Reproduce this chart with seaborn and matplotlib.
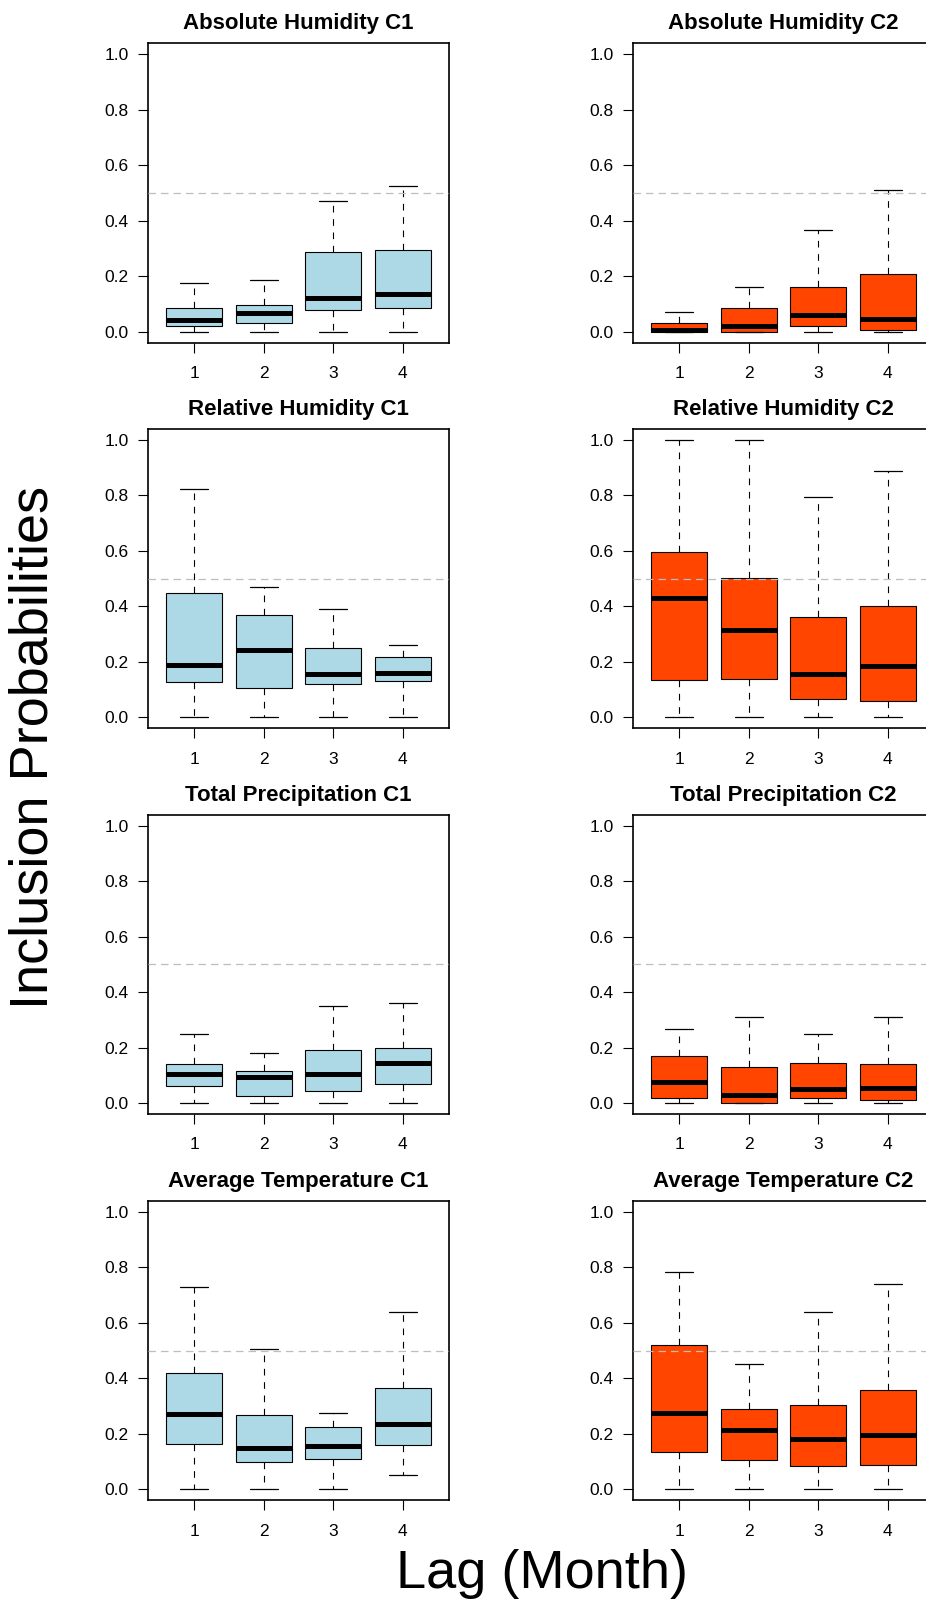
import numpy as np
import pandas as pd
import seaborn as sns
import matplotlib
matplotlib.use("Agg")
import matplotlib.pyplot as plt

# box stats per lag: [lower whisker, Q1, median, Q3, upper whisker]
lags = ["1", "2", "3", "4"]

abs_hum_c1 = [[0.0, 0.020, 0.041, 0.086, 0.175],
              [0.0, 0.030, 0.066, 0.096, 0.187],
              [0.0, 0.080, 0.121, 0.287, 0.471],
              [0.0, 0.086, 0.136, 0.294, 0.526]]
abs_hum_c2 = [[0.0, 0.000, 0.006, 0.030, 0.071],
              [0.0, 0.000, 0.020, 0.086, 0.161],
              [0.0, 0.020, 0.060, 0.161, 0.365],
              [0.0, 0.006, 0.047, 0.208, 0.510]]
rel_hum_c1 = [[0.0, 0.129, 0.190, 0.450, 0.825],
              [0.0, 0.105, 0.244, 0.369, 0.470],
              [0.0, 0.119, 0.155, 0.250, 0.389],
              [0.0, 0.130, 0.160, 0.219, 0.261]]
rel_hum_c2 = [[0.0, 0.135, 0.429, 0.597, 1.000],
              [0.0, 0.137, 0.314, 0.504, 1.000],
              [0.0, 0.067, 0.155, 0.362, 0.796],
              [0.0, 0.059, 0.185, 0.401, 0.889]]
tot_prec_c1 = [[0.0, 0.060, 0.104, 0.139, 0.250],
               [0.0, 0.025, 0.095, 0.114, 0.179],
               [0.0, 0.044, 0.104, 0.190, 0.349],
               [0.0, 0.070, 0.144, 0.199, 0.359]]
tot_prec_c2 = [[0.0, 0.019, 0.074, 0.169, 0.266],
               [0.0, 0.000, 0.030, 0.131, 0.309],
               [0.0, 0.019, 0.050, 0.144, 0.250],
               [0.0, 0.010, 0.054, 0.142, 0.309]]
avg_temp_c1 = [[0.0, 0.165, 0.270, 0.421, 0.730],
               [0.0, 0.099, 0.150, 0.269, 0.506],
               [0.0, 0.109, 0.155, 0.225, 0.275],
               [0.050, 0.159, 0.236, 0.364, 0.641]]
avg_temp_c2 = [[0.0, 0.133, 0.274, 0.522, 0.785],
               [0.0, 0.107, 0.215, 0.290, 0.451],
               [0.0, 0.083, 0.180, 0.305, 0.641],
               [0.0, 0.087, 0.195, 0.358, 0.740]]

panels = [
    ("Absolute Humidity C1", abs_hum_c1, "#ADD8E6"),
    ("Absolute Humidity C2", abs_hum_c2, "#FF4500"),
    ("Relative Humidity C1", rel_hum_c1, "#ADD8E6"),
    ("Relative Humidity C2", rel_hum_c2, "#FF4500"),
    ("Total Precipitation C1", tot_prec_c1, "#ADD8E6"),
    ("Total Precipitation C2", tot_prec_c2, "#FF4500"),
    ("Average Temperature C1", avg_temp_c1, "#ADD8E6"),
    ("Average Temperature C2", avg_temp_c2, "#FF4500"),
]

sns.set_theme(style="white")
plt.rcParams["font.family"] = ["Liberation Sans", "DejaVu Sans"]
plt.rcParams["text.color"] = "black"
plt.rcParams["axes.titlecolor"] = "black"

W, H = 926, 1601
fig = plt.figure(figsize=(W / 100, H / 100), dpi=100)
fig.patch.set_facecolor("white")

col_left = [148.3, 633.3]
ax_w = 300.4
row_top = [43.3, 428.9, 814.6, 1200.9]
ax_h = 299.5

for i, (title, stats, fill) in enumerate(panels):
    r, c = divmod(i, 2)
    ax = fig.add_axes([col_left[c] / W, 1 - (row_top[r] + ax_h) / H, ax_w / W, ax_h / H])

    # five values per lag -> quartiles land exactly on the box stats
    df = pd.DataFrame({
        "lag": [lag for lag, s in zip(lags, stats) for _ in s],
        "value": [v for s in stats for v in s],
    })
    sns.boxplot(data=df, x="lag", y="value", order=lags, ax=ax, color=fill,
                saturation=1, width=0.8, whis=np.inf, showfliers=False,
                linecolor="black", linewidth=0.8,
                medianprops={"linewidth": 3.6, "color": "black", "solid_capstyle": "butt"},
                whiskerprops={"linestyle": (0, (6, 6)), "linewidth": 0.8, "color": "black"},
                capprops={"linewidth": 0.9, "color": "black"})
    ax.axhline(0.5, color="#BEBEBE", linestyle=(0, (6, 4)), linewidth=0.9, zorder=5)

    ax.set_xlim(-0.66, 3.66)
    ax.set_ylim(-0.04, 1.04)
    ax.set_yticks([0, 0.2, 0.4, 0.6, 0.8, 1.0])
    ax.set_yticklabels(["0.0", "0.2", "0.4", "0.6", "0.8", "1.0"])
    ax.set_xlabel("")
    ax.set_ylabel("")
    ax.tick_params(axis="both", direction="out", length=7.2, width=0.8,
                   labelsize=12.5, colors="black", left=True, bottom=True)
    ax.tick_params(axis="y", pad=7)
    ax.tick_params(axis="x", pad=9.5)
    for sp in ax.spines.values():
        sp.set_visible(True)
        sp.set_color("black")
        sp.set_linewidth(1.2)
    ax.set_title(title, fontsize=16, fontweight="bold", pad=10, color="black")

fig.text(34 / W, 1 - 747 / H, "Inclusion Probabilities", rotation=90,
         ha="center", va="center", fontsize=39, color="black")
fig.text(541.5 / W, 13 / H, "Lag (Month)", ha="center", va="baseline",
         fontsize=39, color="black")

fig.savefig("out.png", dpi=100, facecolor="white")
